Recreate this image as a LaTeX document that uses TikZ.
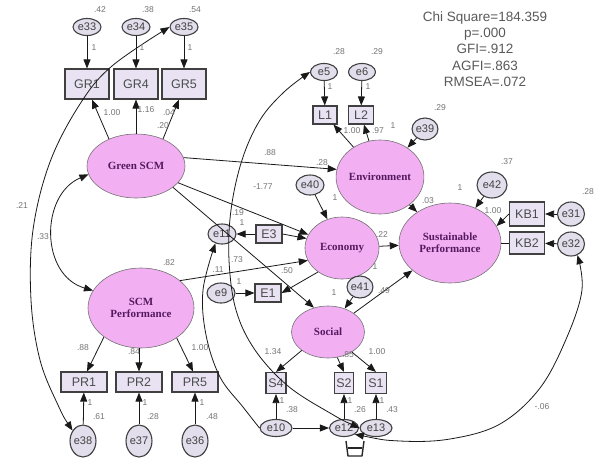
\documentclass[tikz,border=0pt]{standalone}
\usepackage{fontspec}
\setmainfont{Liberation Serif}
\setsansfont{Liberation Sans}
\usetikzlibrary{arrows.meta,shapes.geometric}
\definecolor{latfill}{RGB}{242,175,242}
\definecolor{boxfill}{RGB}{233,226,243}
\definecolor{errfill}{RGB}{226,222,236}
\definecolor{lattext}{RGB}{85,25,95}
\begin{document}
\begin{tikzpicture}[x=1pt,y=-1pt,
  lat/.style={ellipse, draw=black!55, line width=0.6pt, fill=latfill, font=\rmfamily\bfseries\fontsize{11}{12}\selectfont, text=lattext, inner sep=0pt, align=center},
  obs/.style={rectangle, draw=black!75, line width=1.1pt, fill=boxfill, font=\sffamily\fontsize{12.5}{13}\selectfont, text=black!70, inner sep=0pt},
  err/.style={ellipse, draw=black!75, line width=1.1pt, fill=errfill, font=\sffamily\fontsize{11}{11}\selectfont, text=black!75, inner sep=0pt},
  arr/.style={-{Triangle[length=9pt,width=7pt]}, line width=0.8pt, draw=black!90},
  cov/.style={{Triangle[length=9pt,width=7pt]}-{Triangle[length=9pt,width=7pt]}, line width=0.8pt, draw=black!90},
  lbl/.style={font=\sffamily\fontsize{8.5}{9}\selectfont, text=black!55, inner sep=0pt},
]
\useasboundingbox (0,0) rectangle (597,461);

% fit statistics
\node[font=\sffamily\fontsize{13.5}{16.2}\selectfont, text=black!65, align=center] (fit) at (485,49)
  {Chi Square=184.359\\p=.000\\GFI=.912\\AGFI=.863\\RMSEA=.072};

% Green SCM block
\node[err, minimum width=28pt, minimum height=17pt] (e33) at (87,27) {e33};
\node[err, minimum width=28pt, minimum height=17pt] (e34) at (136,27) {e34};
\node[err, minimum width=28pt, minimum height=17pt] (e35) at (184,27) {e35};
\node[obs, minimum width=44pt, minimum height=30pt] (GR1) at (87,84) {GR1};
\node[obs, minimum width=44pt, minimum height=30pt] (GR4) at (136,84) {GR4};
\node[obs, minimum width=44pt, minimum height=30pt] (GR5) at (184,84) {GR5};
\node[lat, minimum width=98pt, minimum height=64pt] (gs) at (136,166) {Green SCM};

% SCM performance block
\node[lat, minimum width=106pt, minimum height=80pt] (sp) at (141,308) {SCM\\Performance};
\node[obs, minimum width=46pt, minimum height=20pt] (PR1) at (84,382) {PR1};
\node[obs, minimum width=46pt, minimum height=20pt] (PR2) at (139,382) {PR2};
\node[obs, minimum width=46pt, minimum height=20pt] (PR5) at (195,382) {PR5};
\node[err, minimum width=20pt, minimum height=32pt] (e38) at (83,441) {e38};
\node[err, minimum width=20pt, minimum height=32pt] (e37) at (139,441) {e37};
\node[err, minimum width=20pt, minimum height=32pt] (e36) at (195,441) {e36};

% Environment block
\node[err, minimum width=27pt, minimum height=17pt] (e5) at (324,72) {e5};
\node[err, minimum width=27pt, minimum height=17pt] (e6) at (362,72) {e6};
\node[obs, minimum width=24pt, minimum height=18pt] (L1) at (325,115) {L1};
\node[obs, minimum width=25pt, minimum height=18pt] (L2) at (361,115) {L2};
\node[err, minimum width=24pt, minimum height=22pt] (e39) at (425,129) {e39};
\node[lat, minimum width=76pt, minimum height=74pt] (env) at (380,177) {Environment};
\node[err, minimum width=28pt, minimum height=20pt] (e40) at (310,185) {e40};

% Economy block
\node[lat, minimum width=74pt, minimum height=62pt] (eco) at (342,248) {Economy};
\node[err, minimum width=28pt, minimum height=20pt] (e11) at (222,234) {e11};
\node[obs, minimum width=26pt, minimum height=18pt] (E3) at (269,234) {E3};
\node[err, minimum width=28pt, minimum height=20pt] (e9) at (221,293) {e9};
\node[obs, minimum width=26pt, minimum height=18pt] (E1) at (268,293) {E1};
\node[err, minimum width=25pt, minimum height=22pt] (e41) at (360,287) {e41};

% Sustainable performance block
\node[lat, minimum width=102pt, minimum height=80pt] (sus) at (450,243) {Sustainable\\Performance};
\node[err, minimum width=30pt, minimum height=26pt] (e42) at (492,185) {e42};
\node[obs, minimum width=35pt, minimum height=24pt] (KB1) at (527,214) {KB1};
\node[obs, minimum width=35pt, minimum height=22pt] (KB2) at (527,243) {KB2};
\node[err, minimum width=27pt, minimum height=24pt] (e31) at (571,214) {e31};
\node[err, minimum width=27pt, minimum height=24pt] (e32) at (571,244) {e32};

% Social block
\node[lat, minimum width=73pt, minimum height=52pt] (soc) at (328,332) {Social};
\node[obs, minimum width=20pt, minimum height=21pt] (S4) at (276,383) {S4};
\node[obs, minimum width=19pt, minimum height=21pt] (S2) at (344,383) {S2};
\node[obs, minimum width=21pt, minimum height=21pt] (S1) at (376,383) {S1};
\node[err, minimum width=32pt, minimum height=17pt] (e10) at (276,428) {e10};
\node[err, minimum width=29pt, minimum height=17pt] (e12) at (344,428) {e12};
\node[err, minimum width=32pt, minimum height=17pt] (e13) at (376,428) {e13};

% error -> indicator arrows
\draw[arr] (e33) -- (GR1);
\draw[arr] (e34) -- (GR4);
\draw[arr] (e35) -- (GR5);
\draw[arr] (e38) -- (PR1);
\draw[arr] (e37) -- (PR2);
\draw[arr] (e36) -- (PR5);
\draw[arr] (e5) -- (L1);
\draw[arr] (e6) -- (L2);
\draw[arr] (e10) -- (S4);
\draw[arr] (e12) -- (S2);
\draw[arr] (e13) -- (S1);
\draw[arr] (e31) -- (KB1);
\draw[arr] (e32) -- (KB2);
\draw[arr] (e9) -- (E1);
\draw[arr] (E3) -- (e11);

% loadings
\draw[arr] (gs.135) -- ([xshift=5pt]GR1.south);
\draw[arr] (gs.north) -- (GR4.south);
\draw[arr] (gs.45) -- ([xshift=-5pt]GR5.south);
\draw[arr] (sp.218) -- ([xshift=3pt]PR1.north);
\draw[arr] (sp.south -| PR2.north) -- (PR2.north);
\draw[arr] (sp.320) -- ([xshift=-2pt]PR5.north);
\draw[arr] (env) -- (L1);
\draw[arr] (env) -- (L2);
\draw[arr] (soc.215) -- (S4.north);
\draw[arr] (soc.290) -- (S2.north);
\draw[arr] (soc.320) -- (S1.north);
\draw[arr] (eco.225) -- (E1.east);
\draw[arr] (E3.east) -- (eco.165);
\draw[arr] (KB1.west) -- (sus.20);
\draw[line width=0.8pt, draw=black!90] (KB2.west) -- (sus.east);

% structural paths
\draw[arr] (gs.10) -- (env.170);
\draw[arr] (gs) -- (eco);
\draw[arr] (gs.-30) -- (soc.120);
\draw[arr] (sp.35) -- (eco.200);
\draw[arr] (env) -- (sus);
\draw[arr] (eco) -- (sus);
\draw[arr] (soc) -- (sus);
\draw[arr] (e39) -- (env);
\draw[arr] (e40) -- (eco);
\draw[arr] (e41) -- (soc);
\draw[arr] (e42) -- (sus);

% covariances
\draw[cov] (gs.190) .. controls (40,195) and (40,275) .. (sp.160);
\draw[cov] plot[smooth, tension=0.6] coordinates {(e38.135) (58,405) (40,360) (31,300) (33,230) (50,162) (80,104) (112,66) (e35.west)};
\draw[cov] plot[smooth, tension=0.6] coordinates {(e13.west) (330,413) (288,386) (255,350) (236,310) (229,260) (231,210) (242,160) (260,120) (284,92) (e5.west)};
\draw[cov] plot[smooth, tension=0.6] coordinates {(e12.-30) (400,441) (450,439) (500,424) (540,388) (567,337) (582,290) (e32.-60)};
\draw[arr] plot[smooth, tension=0.6] coordinates {(e10.west) (243,407) (220,377) (206,335) (203,290) (e11.235)};
\draw[arr] (e10.east) -- (e12.west);
\draw[line width=1.4pt, draw=black!85, line join=round] (346,441) -- (348,456) -- (362,456) -- (364,441);
\draw[line width=1.4pt, draw=black!85] (348,448) -- (362,448);

% labels
\node[lbl] (l1) at (100,10) {.42};
\node[lbl] (l2) at (148,10) {.38};
\node[lbl] (l3) at (195,10) {.54};
\node[lbl] (l4) at (94,48) {1};
\node[lbl] (l5) at (142,48) {1};
\node[lbl] (l6) at (190,48) {1};
\node[lbl] (l7) at (112,113) {1.00};
\node[lbl] (l8) at (146,110) {1.16};
\node[lbl] (l9) at (169,113) {.04};
\node[lbl] (l10) at (163,126) {.20};
\node[lbl] (l11) at (22,206) {.21};
\node[lbl] (l12) at (43,237) {.33};
\node[lbl] (l13) at (169,263) {.82};
\node[lbl] (l14) at (83,348) {.88};
\node[lbl] (l15) at (134,352) {.84};
\node[lbl] (l16) at (200,348) {1.00};
\node[lbl] (l17) at (90,403) {1};
\node[lbl] (l18) at (145,403) {1};
\node[lbl] (l19) at (202,403) {1};
\node[lbl] (l20) at (99,417) {.61};
\node[lbl] (l21) at (153,417) {.28};
\node[lbl] (l22) at (212,417) {.48};
\node[lbl] (l23) at (339,52) {.28};
\node[lbl] (l24) at (377,52) {.29};
\node[lbl] (l25) at (330,87) {1};
\node[lbl] (l26) at (368,87) {1};
\node[lbl] (l27) at (352,131) {1.00};
\node[lbl] (l28) at (378,131) {.97};
\node[lbl] (l29) at (393,126) {1};
\node[lbl] (l30) at (440,108) {.29};
\node[lbl] (l31) at (270,153) {.88};
\node[lbl] (l32) at (322,163) {.28};
\node[lbl] (l33) at (263,187) {-1.77};
\node[lbl] (l34) at (335,198) {1};
\node[lbl] (l35) at (238,213) {.19};
\node[lbl] (l36) at (242,223) {1};
\node[lbl] (l37) at (237,260) {.73};
\node[lbl] (l38) at (218,270) {.11};
\node[lbl] (l39) at (287,271) {.50};
\node[lbl] (l40) at (239,282) {1};
\node[lbl] (l41) at (382,235) {.22};
\node[lbl] (l42) at (375,267) {1};
\node[lbl] (l43) at (384,291) {.49};
\node[lbl] (l44) at (334,293) {1};
\node[lbl] (l45) at (507,162) {.37};
\node[lbl] (l46) at (460,188) {1};
\node[lbl] (l47) at (428,201) {.03};
\node[lbl] (l48) at (493,211) {1.00};
\node[lbl] (l49) at (588,192) {.28};
\node[lbl] (l50) at (273,352) {1.34};
\node[lbl] (l51) at (348,355) {.85};
\node[lbl] (l52) at (377,352) {1.00};
\node[lbl] (l53) at (282,401) {1};
\node[lbl] (l54) at (350,401) {1};
\node[lbl] (l55) at (382,401) {1};
\node[lbl] (l56) at (292,410) {.38};
\node[lbl] (l57) at (360,410) {.26};
\node[lbl] (l58) at (392,410) {.43};
\node[lbl] (l59) at (542,407) {-.06};
\end{tikzpicture}
\end{document}
